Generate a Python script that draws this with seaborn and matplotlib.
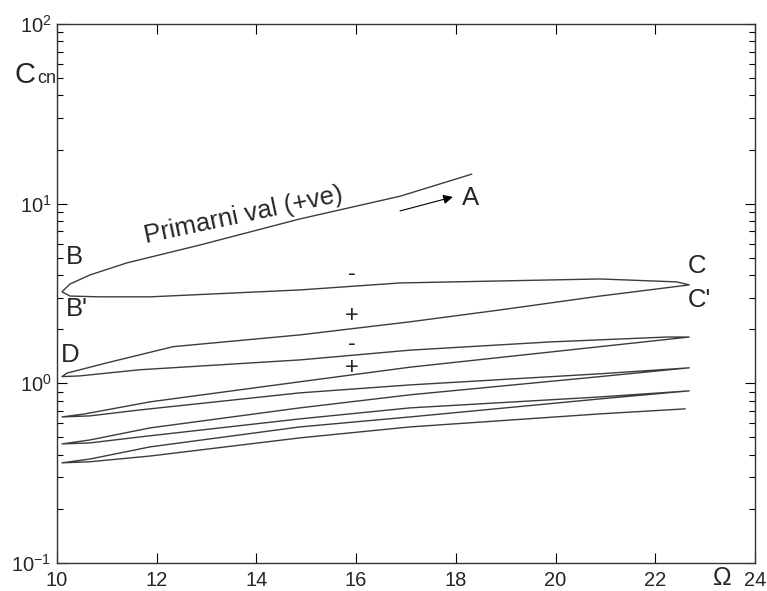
import numpy as np
import pandas as pd
import matplotlib
matplotlib.use('Agg')
import matplotlib.pyplot as plt
import seaborn as sns
from matplotlib.ticker import LogLocator, FixedLocator

#Data: one continuous hysteresis path, starting at A.
omega = [18.32, 16.88, 14.87, 12.87, 11.40, 10.66, 10.26, 10.10,
         10.26, 10.86, 11.87, 14.87, 16.88, 20.89, 22.43, 22.68,
         20.89, 18.88, 17.08, 14.87, 12.33, 11.00, 10.20, 10.10,
         10.46, 11.66, 14.87, 17.08, 19.89, 22.23, 22.68,
         20.89, 17.08, 14.87, 11.87, 10.56, 10.10,
         10.66, 11.66, 14.87, 17.08, 20.89, 22.68,
         20.89, 17.08, 14.87, 11.87, 10.66, 10.10,
         10.66, 11.66, 14.87, 17.08, 20.89, 22.68,
         20.89, 17.08, 14.87, 11.87, 10.66, 10.10,
         10.66, 11.87, 14.87, 17.08, 20.89, 22.60]
ccn = [14.6, 11.0, 8.22, 5.89, 4.68, 4.01, 3.57, 3.23,
       3.06, 3.03, 3.03, 3.31, 3.62, 3.81, 3.67, 3.53,
       3.06, 2.56, 2.20, 1.86, 1.60, 1.30, 1.14, 1.09,
       1.10, 1.19, 1.35, 1.53, 1.70, 1.81, 1.81,
       1.60, 1.23, 1.02, 0.789, 0.676, 0.650,
       0.659, 0.711, 0.885, 0.980, 1.13, 1.22,
       1.09, 0.863, 0.730, 0.565, 0.484, 0.460,
       0.466, 0.503, 0.634, 0.730, 0.840, 0.908,
       0.819, 0.650, 0.572, 0.443, 0.379, 0.361,
       0.366, 0.394, 0.497, 0.572, 0.676, 0.721]

x_ticks = [10, 12, 14, 16, 18, 20, 22, 24]

#Point labels: (text, omega, ccn)
point_labels = [('B', 10.17, 5.05), ("B'", 10.17, 2.60), ('C', 22.66, 4.50),
                ("C'", 22.66, 2.91), ('D', 10.08, 1.44), ('A', 18.12, 10.8)]
sign_labels = [('-', 15.92, 4.05), ('+', 15.92, 2.37), ('-', 15.92, 1.66), ('+', 15.92, 1.22)]

sns.set_style('white')
plt.rcParams['font.family'] = ['Liberation Sans', 'DejaVu Sans']
plt.rcParams['mathtext.default'] = 'regular'
plt.rcParams['axes.unicode_minus'] = False

df = pd.DataFrame({'omega': omega, 'ccn': ccn})

fig = plt.figure(figsize=(7.67, 5.91), dpi=100)
ax = fig.add_axes([57/767, 28/591, 698/767, 539/591])

sns.lineplot(data=df, x='omega', y='ccn', sort=False, estimator=None,
             color='#3c3c3c', linewidth=1.0, ax=ax)

ax.set_yscale('log')
ax.set_xlim(10, 24)
ax.set_ylim(0.1, 100)
ax.xaxis.set_major_locator(FixedLocator(x_ticks))
ax.yaxis.set_major_locator(LogLocator(base=10))
ax.yaxis.set_minor_locator(LogLocator(base=10, subs=np.arange(2, 10)))
ax.set_xlabel('')
ax.set_ylabel('')

ax.tick_params(axis='both', which='both', direction='in', top=True, right=True,
               left=True, bottom=True, color='black', width=0.8)
ax.tick_params(axis='both', which='major', length=7, labelsize=14.5)
ax.tick_params(axis='y', which='minor', length=4)
ax.tick_params(axis='x', which='major', pad=6)
ax.tick_params(axis='y', which='major', pad=4)
for s in ax.spines.values():
    s.set_color('#333333')
    s.set_linewidth(1.0)

for txt, x, y in point_labels:
    ax.text(x, y, txt, fontsize=18.5, ha='left', va='center')
for txt, x, y in sign_labels:
    ax.text(x, y, txt, fontsize=17, ha='center', va='center')

ax.text(13.75, 8.6, 'Primarni val (+ve)', fontsize=18.5, rotation=12,
        ha='center', va='center', rotation_mode='anchor')
ax.annotate('', xy=(17.94, 10.9), xytext=(16.88, 9.11),
            arrowprops=dict(arrowstyle='-|>', color='black', lw=0.8,
                            mutation_scale=14, shrinkA=0, shrinkB=0))

#Axis titles placed like the original
fig.text(722/767, 1 - 578/591, '\u03a9', fontsize=18, ha='center', va='center')
fig.text(15/767, 1 - 83/591, 'C', fontsize=21, ha='left', va='baseline')
fig.text(37/767, 1 - 83/591, 'cn', fontsize=13, ha='left', va='baseline')

fig.savefig('out.png', dpi=100)
